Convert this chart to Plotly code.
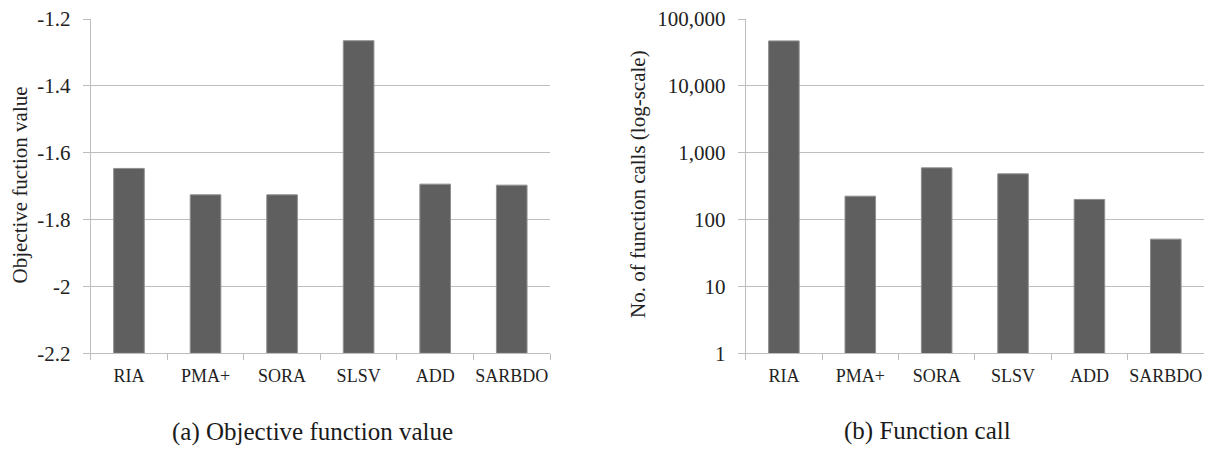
import plotly.graph_objects as go

# ---- data ----
methods = ["RIA", "PMA+", "SORA", "SLSV", "ADD", "SARBDO"]
objective_values = [-1.647, -1.726, -1.726, -1.265, -1.694, -1.697]
function_calls = [47000, 224, 594, 483, 200, 51]

obj_ticks = [-2.2, -2.0, -1.8, -1.6, -1.4, -1.2]
obj_ticktext = ["-2.2", "-2", "-1.8", "-1.6", "-1.4", "-1.2"]
call_ticks = [1, 10, 100, 1000, 10000, 100000]
call_ticktext = ["1", "10", "100", "1,000", "10,000", "100,000"]

obj_axis_min = -2.2
obj_axis_max = -1.2

W, H = 1214, 450
FONT = "Liberation Serif"
BAR = "#5f5f5f"
BAR_EDGE = "#8f8f8f"
GRID = "#bdbdbd"
TXT = "#222222"

fig = go.Figure()

# Bars in the left panel start at the axis minimum (Excel style)
base = [obj_axis_min] * len(objective_values)
heights = [v - b for v, b in zip(objective_values, base)]
fig.add_trace(go.Bar(
    x=methods, y=heights, base=base,
    marker=dict(color=BAR, line=dict(color=BAR_EDGE, width=1)),
    xaxis="x", yaxis="y", showlegend=False,
    customdata=objective_values, hovertemplate="%{x}: %{customdata}<extra></extra>",
))
fig.add_trace(go.Bar(
    x=methods, y=function_calls,
    marker=dict(color=BAR, line=dict(color=BAR_EDGE, width=1)),
    xaxis="x2", yaxis="y2", showlegend=False,
))

ytop = 1 - 19 / H
ybot = 1 - 353.3 / H

xcommon = dict(
    type="category", showgrid=False, showline=True, linecolor=GRID, linewidth=1,
    ticks="outside", tickson="boundaries", ticklen=6, tickcolor=GRID, tickangle=0,
    automargin=False,
    tickfont=dict(family=FONT, size=18, color=TXT), ticklabelstandoff=6,
)
ycommon = dict(
    showgrid=True, gridcolor=GRID, gridwidth=1, showline=True, linecolor=GRID, linewidth=1,
    ticks="outside", ticklen=7, tickcolor=GRID, zeroline=False, automargin=False,
    tickfont=dict(family=FONT, size=21, color=TXT), ticklabelstandoff=8,
)

fig.update_layout(
    width=W, height=H,
    margin=dict(l=0, r=0, t=0, b=0, autoexpand=False),
    paper_bgcolor="white", plot_bgcolor="white",
    bargap=0.6,
    xaxis=dict(domain=[90.7 / W, 550 / W], anchor="y", **xcommon),
    yaxis=dict(domain=[ybot, ytop], anchor="x", range=[obj_axis_min, obj_axis_max],
               tickvals=obj_ticks, ticktext=obj_ticktext, **ycommon),
    xaxis2=dict(domain=[745.7 / W, 1204 / W], anchor="y2", **xcommon),
    yaxis2=dict(domain=[ybot, ytop], anchor="x2", type="log", range=[0, 5],
                tickvals=call_ticks, ticktext=call_ticktext, **ycommon),
    annotations=[
        dict(text="Objective fuction value", x=19.5 / W, y=1 - 185 / H, xref="paper", yref="paper",
             textangle=-90, showarrow=False, xanchor="center", yanchor="middle",
             font=dict(family=FONT, size=21, color=TXT)),
        dict(text="No. of function calls (log-scale)", x=638 / W, y=1 - 184 / H, xref="paper", yref="paper",
             textangle=-90, showarrow=False, xanchor="center", yanchor="middle",
             font=dict(family=FONT, size=21, color=TXT)),
        dict(text="(a) Objective function value", x=312.6 / W, y=1 - 431.7 / H, xref="paper", yref="paper",
             showarrow=False, xanchor="center", yanchor="middle",
             font=dict(family=FONT, size=25, color="#1a1a1a")),
        dict(text="(b) Function call", x=927 / W, y=1 - 431 / H, xref="paper", yref="paper",
             showarrow=False, xanchor="center", yanchor="middle",
             font=dict(family=FONT, size=25, color="#1a1a1a")),
    ],
)

fig.write_html(
    "out.html",
    config={"displayModeBar": False},
    post_script="document.body.style.margin='0';document.body.style.overflow='hidden';",
)
